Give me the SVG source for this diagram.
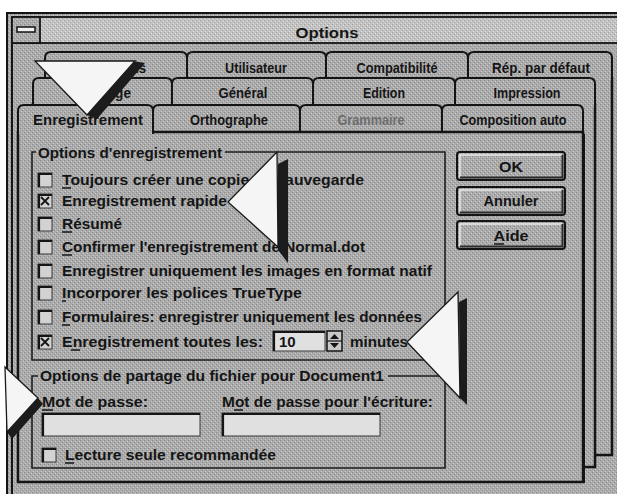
<svg xmlns="http://www.w3.org/2000/svg" width="617" height="494" viewBox="0 0 617 494">
<defs>
<pattern id="dither" width="4" height="4" patternUnits="userSpaceOnUse">
<rect width="4" height="4" fill="#ababab"/>
<rect x="0" y="0" width="1" height="1" fill="#8a8a8a"/>
<rect x="2" y="2" width="1" height="1" fill="#8a8a8a"/>
<rect x="1" y="3" width="1" height="1" fill="#cacaca"/>
<rect x="3" y="1" width="1" height="1" fill="#cacaca"/>
</pattern>
<pattern id="ditherLight" width="4" height="4" patternUnits="userSpaceOnUse">
<rect width="4" height="4" fill="#c2c2c2"/>
<rect x="0" y="0" width="1" height="1" fill="#a0a0a0"/>
<rect x="2" y="2" width="1" height="1" fill="#a6a6a6"/>
<rect x="1" y="3" width="1" height="1" fill="#e0e0e0"/>
<rect x="3" y="1" width="1" height="1" fill="#e0e0e0"/>
</pattern>
</defs>
<style>
.t{font-family:"Liberation Sans",Arial,Helvetica,sans-serif;font-weight:bold;font-size:15px;fill:#151515}
.tl{font-size:14px;text-anchor:middle}
.dis{fill:#6e6e6e}
.tab{fill:url(#dither);stroke:#141414;stroke-width:2}
.page{fill:url(#dither);stroke:#141414;stroke-width:2.5}
.cb{fill:#d2d2d2;stroke:#3a3a3a;stroke-width:1}
.cbe{fill:none;stroke:#151515;stroke-width:2.2}
.field{fill:#e0e0e0;stroke:#3a3a3a;stroke-width:1}
.grp{fill:none;stroke:#1e1e1e;stroke-width:1.6}
.btn{fill:url(#dither);stroke:#141414;stroke-width:2}
.hl{fill:none;stroke:#e8e8e8;stroke-width:1.5}
.sh{fill:none;stroke:#2a2a2a;stroke-width:2}
.ul{stroke:#151515;stroke-width:1.5}
.x{stroke:#151515;stroke-width:1.8}
.arrow{fill:#f5f5f5;stroke:#1a1a1a;stroke-width:1.3}
.shadow{fill:#1c1c1c}
.line{fill:none;stroke:#141414;stroke-width:2}
</style>

<rect x="0" y="0" width="617" height="494" fill="#ffffff"/>

<g id="dialog-frame">
<rect x="7" y="13" width="610" height="481" fill="url(#dither)"/>
<path class="line" d="M7,494 V13 H617"/>
<path class="line" d="M12,494 V17" stroke-width="1.2"/>
<rect x="12" y="17" width="606" height="26" fill="url(#ditherLight)" stroke="#141414" stroke-width="1.8"/>
<rect x="12" y="17" width="28" height="26" fill="url(#dither)" stroke="#141414" stroke-width="1.8"/>
<rect x="17" y="27" width="18" height="5" fill="#f0f0f0" stroke="#141414" stroke-width="1.5"/>
<text class="t" x="327" y="38" text-anchor="middle" font-size="17" textLength="63" lengthAdjust="spacingAndGlyphs">Options</text>
</g>

<g id="page-row1">
<rect class="page" x="45" y="78" width="567" height="377"/>
<path class="tab" d="M45,80 V58 Q45,52 51,52 H181 Q187,52 187,58 V80"/>
<path class="tab" d="M187,80 V58 Q187,52 193,52 H320 Q326,52 326,58 V80"/>
<path class="tab" d="M326,80 V58 Q326,52 332,52 H462 Q468,52 468,58 V80"/>
<path class="tab" d="M468,80 V58 Q468,52 474,52 H606 Q612,52 612,58 V80"/>
<text class="t tl" x="115" y="73" textLength="62" lengthAdjust="spacingAndGlyphs">Révisions</text>
<text class="t tl" x="256" y="73" textLength="62" lengthAdjust="spacingAndGlyphs">Utilisateur</text>
<text class="t tl" x="397" y="73" textLength="81" lengthAdjust="spacingAndGlyphs">Compatibilité</text>
<text class="t tl" x="541" y="73" textLength="98" lengthAdjust="spacingAndGlyphs">Rép. par défaut</text>
</g>

<g id="page-row2">
<rect class="page" x="33" y="104" width="562" height="363"/>
<path class="tab" d="M33,106 V84 Q33,78 39,78 H166 Q172,78 172,84 V106"/>
<path class="tab" d="M172,106 V84 Q172,78 178,78 H307 Q313,78 313,84 V106"/>
<path class="tab" d="M313,106 V84 Q313,78 319,78 H449 Q455,78 455,84 V106"/>
<path class="tab" d="M455,106 V84 Q455,78 461,78 H589 Q595,78 595,84 V106"/>
<text class="t tl" x="100" y="98" textLength="62" lengthAdjust="spacingAndGlyphs">Affichage</text>
<text class="t tl" x="243" y="98" textLength="49" lengthAdjust="spacingAndGlyphs">Général</text>
<text class="t tl" x="384" y="98" textLength="42" lengthAdjust="spacingAndGlyphs">Edition</text>
<text class="t tl" x="527" y="98" textLength="67" lengthAdjust="spacingAndGlyphs">Impression</text>
</g>

<g id="page-enregistrement">
<path class="tab" d="M153,134 V111 Q153,105 159,105 H294 Q300,105 300,111 V134"/>
<path class="tab" d="M300,134 V111 Q300,105 306,105 H436 Q442,105 442,111 V134"/>
<path class="tab" d="M442,134 V111 Q442,105 448,105 H577 Q583,105 583,111 V134"/>
<rect class="page" x="18" y="132" width="565" height="350"/>
<path class="line" d="M20,482 H584 V134" stroke-width="3"/>
<path class="tab" d="M18,134 V111 Q18,105 24,105 H147 Q153,105 153,111 V134" stroke-width="2.5"/>
<text class="t tl" x="88" y="125" textLength="110" lengthAdjust="spacingAndGlyphs">Enregistrement</text>
<text class="t tl" x="229" y="125" textLength="78" lengthAdjust="spacingAndGlyphs">Orthographe</text>
<text class="t tl dis" x="371" y="125" textLength="67" lengthAdjust="spacingAndGlyphs">Grammaire</text>
<text class="t tl" x="513" y="125" textLength="107" lengthAdjust="spacingAndGlyphs">Composition auto</text>
</g>

<g id="group-options-enregistrement">
<path class="grp" d="M36,152 H32 V360 H445 V152 H225"/>
<text class="t" x="38" y="158" textLength="184" lengthAdjust="spacingAndGlyphs">Options d'enregistrement</text>
</g>

<g id="opt-toujours">
<rect class="cb" x="38" y="173" width="14" height="14"/><path class="cbe" d="M39,187 V174 H52"/>
<text class="t" x="62" y="185" textLength="302" lengthAdjust="spacingAndGlyphs">Toujours créer une copie de sauvegarde</text>
<line class="ul" x1="62" y1="188" x2="71" y2="188"/>
</g>
<g id="opt-rapide">
<rect class="cb" x="38" y="194" width="14" height="14"/><path class="cbe" d="M39,208 V195 H52"/>
<path class="x" d="M41,197 L49,205 M49,197 L41,205"/>
<text class="t" x="62" y="206" textLength="165" lengthAdjust="spacingAndGlyphs">Enregistrement rapide</text>
</g>
<g id="opt-resume">
<rect class="cb" x="38" y="217" width="14" height="14"/><path class="cbe" d="M39,231 V218 H52"/>
<text class="t" x="62" y="229" textLength="60" lengthAdjust="spacingAndGlyphs">Résumé</text>
<line class="ul" x1="62" y1="232" x2="72" y2="232"/>
</g>
<g id="opt-confirmer">
<rect class="cb" x="38" y="240" width="14" height="14"/><path class="cbe" d="M39,254 V241 H52"/>
<text class="t" x="62" y="252" textLength="303" lengthAdjust="spacingAndGlyphs">Confirmer l'enregistrement de Normal.dot</text>
<line class="ul" x1="62" y1="255" x2="72" y2="255"/>
</g>
<g id="opt-images">
<rect class="cb" x="38" y="264" width="14" height="14"/><path class="cbe" d="M39,278 V265 H52"/>
<text class="t" x="62" y="276" textLength="370" lengthAdjust="spacingAndGlyphs">Enregistrer uniquement les images en format natif</text>
</g>
<g id="opt-polices">
<rect class="cb" x="38" y="286" width="14" height="14"/><path class="cbe" d="M39,300 V287 H52"/>
<text class="t" x="62" y="298" textLength="240" lengthAdjust="spacingAndGlyphs">Incorporer les polices TrueType</text>
<line class="ul" x1="62" y1="301" x2="66" y2="301"/>
</g>
<g id="opt-formulaires">
<rect class="cb" x="38" y="310" width="14" height="14"/><path class="cbe" d="M39,324 V311 H52"/>
<text class="t" x="62" y="322" textLength="360" lengthAdjust="spacingAndGlyphs">Formulaires: enregistrer uniquement les données</text>
<line class="ul" x1="62" y1="325" x2="70" y2="325"/>
</g>
<g id="opt-toutes">
<rect class="cb" x="38" y="335" width="14" height="14"/><path class="cbe" d="M39,349 V336 H52"/>
<path class="x" d="M41,338 L49,346 M49,338 L41,346"/>
<text class="t" x="62" y="347" textLength="201" lengthAdjust="spacingAndGlyphs">Enregistrement toutes les:</text>
<line class="ul" x1="71" y1="350" x2="80" y2="350"/>
<rect class="field" x="273" y="331" width="52" height="20" fill="#ececec"/>
<path class="cbe" d="M274,351 V332 H325"/>
<text class="t" x="279" y="347" font-size="16">10</text>
<rect x="327" y="331" width="15" height="20" fill="#c8c8c8" stroke="#141414" stroke-width="1.5"/>
<line x1="327" y1="341" x2="342" y2="341" stroke="#141414" stroke-width="1.2"/>
<path d="M330,339 L334.5,334 L339,339 Z M330,343 L334.5,348 L339,343 Z" fill="#151515"/>
<text class="t" x="350" y="347" textLength="58" lengthAdjust="spacingAndGlyphs">minutes</text>
</g>

<g id="group-partage">
<path class="grp" d="M38,376 H32 V468 H445 V376 H388"/>
<text class="t" x="40" y="381" textLength="344" lengthAdjust="spacingAndGlyphs">Options de partage du fichier pour Document1</text>
</g>
<g id="mot-de-passe">
<text class="t" x="42" y="407" textLength="106" lengthAdjust="spacingAndGlyphs">Mot de passe:</text>
<line class="ul" x1="42" y1="410" x2="53" y2="410"/>
<rect class="field" x="42" y="413" width="158" height="23"/>
<path class="cbe" d="M43,436 V414 H200"/>
</g>
<g id="mot-de-passe-ecriture">
<text class="t" x="222" y="407" textLength="211" lengthAdjust="spacingAndGlyphs">Mot de passe pour l'écriture:</text>
<line class="ul" x1="234" y1="410" x2="243" y2="410"/>
<rect class="field" x="222" y="413" width="158" height="23"/>
<path class="cbe" d="M223,436 V414 H380"/>
</g>
<g id="opt-lecture">
<rect class="cb" x="42" y="448" width="14" height="14"/><path class="cbe" d="M43,462 V449 H56"/>
<text class="t" x="65" y="460" textLength="211" lengthAdjust="spacingAndGlyphs">Lecture seule recommandée</text>
<line class="ul" x1="65" y1="463" x2="74" y2="463"/>
</g>

<g id="btn-ok">
<rect class="btn" x="457" y="152" width="108" height="28" rx="3" stroke-width="2.5"/>
<path class="hl" d="M460,177 V155 H562"/>
<path class="sh" d="M460,177.5 H562.5 V155"/>
<text class="t" x="511" y="172" text-anchor="middle" font-size="17" textLength="24" lengthAdjust="spacingAndGlyphs">OK</text>
</g>
<g id="btn-annuler">
<rect class="btn" x="457" y="187" width="108" height="28" rx="3"/>
<path class="hl" d="M460,212 V190 H562"/>
<path class="sh" d="M460,212.5 H562.5 V190"/>
<text class="t" x="511" y="206" text-anchor="middle" textLength="55" lengthAdjust="spacingAndGlyphs">Annuler</text>
</g>
<g id="btn-aide">
<rect class="btn" x="457" y="221" width="108" height="28" rx="3"/>
<path class="hl" d="M460,246 V224 H562"/>
<path class="sh" d="M460,246.5 H562.5 V224"/>
<text class="t" x="511" y="241" text-anchor="middle" textLength="35" lengthAdjust="spacingAndGlyphs">Aide</text>
<line class="ul" x1="494" y1="244" x2="504" y2="244"/>
</g>

<g id="arrow-tab">
<polygon class="shadow" points="133,61 145,63 97,119 87,115"/>
<polygon class="arrow" points="35,61 135,61 87,115"/>
</g>
<g id="arrow-rapide">
<polygon class="shadow" points="278,164 288,159 288,263 278,250"/>
<polygon class="arrow" points="277,152 228,202 278,247"/>
</g>
<g id="arrow-minutes">
<polygon class="shadow" points="459,302 467,298 467,405 460,398"/>
<polygon class="arrow" points="458,292 407,342 460,398"/>
</g>
<g id="arrow-motdepasse">
<polygon class="shadow" points="38,398 43,404 12,439 7,432"/>
<polygon class="arrow" points="5,367 38,398 7,432"/>
</g>
</svg>
